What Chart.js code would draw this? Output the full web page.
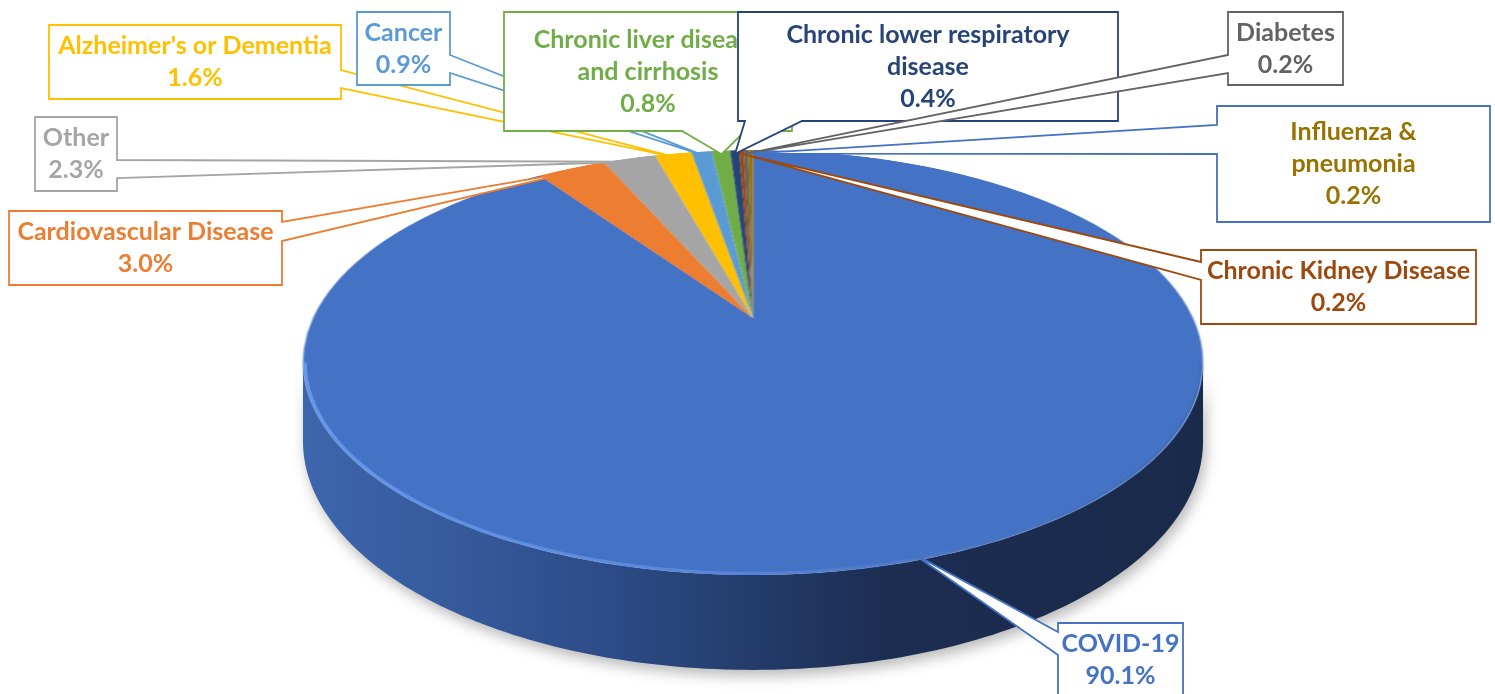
<!DOCTYPE html>
<html>
<head>
<meta charset="utf-8">
<script src="https://cdn.jsdelivr.net/npm/chart.js@4.4.0/dist/chart.umd.min.js"></script>
<style>
  html, body { margin: 0; padding: 0; background: #fff; }
  canvas { display: block; }
</style>
</head>
<body>
<canvas id="deaths_chart" width="1495" height="694"></canvas>
<script>
// Causes of death, in the order the slices go round the pie
var causes = ["COVID-19", "Cardiovascular Disease", "Other", "Alzheimer's or Dementia", "Cancer",
  "Chronic liver disease and cirrhosis", "Chronic lower respiratory disease",
  "Chronic Kidney Disease", "Diabetes", "Influenza & pneumonia"];

// Share of deaths, in percent
var shares = [90.1, 3.0, 2.3, 1.6, 0.9, 0.8, 0.4, 0.2, 0.2, 0.2];

// Office colours
var sliceColors = ["#4472C4", "#ED7D31", "#A5A5A5", "#FFC000", "#5B9BD5", "#70AD47", "#264478", "#9E480E", "#636363", "#997300"];
var boxColors = ["#4472C4", "#ED7D31", "#A5A5A5", "#FFC000", "#5B9BD5", "#70AD47", "#264478", "#9E480E", "#636363", "#4472C4"];

// callout boxes, same order as the data; side = where the pointer leaves the box
var callouts = [
  {x: 1058, y: 623, w: 125, h: 74, side: "left", a: 632, b: 655},
  {x: 9, y: 211, w: 273, h: 74, side: "right", a: 222, b: 241},
  {x: 35, y: 117, w: 82, h: 74, side: "right", a: 160, b: 178},
  {x: 49, y: 25, w: 292, h: 74, side: "right", a: 70, b: 88},
  {x: 357, y: 12, w: 93, h: 73, side: "right", a: 55, b: 73},
  {x: 504, y: 12, w: 288, h: 119, side: "bottom", a: 682, b: 745, wrap: 250},
  {x: 738, y: 12, w: 380, h: 109, side: "bottom", a: 745, b: 802, wrap: 340},
  {x: 1201, y: 250, w: 275, h: 74, side: "left", a: 262, b: 280},
  {x: 1228, y: 12, w: 115, h: 73, side: "left", a: 55, b: 73},
  {x: 1217, y: 106, w: 273, h: 116, side: "left", a: 125, b: 154, wrap: 170}
];

// perspective of the tilted disc
var view = {cx: 753, cy: 318, rx: 440, ry: 203, tilt: -0.21, depth: 75};

function project(u, v) {
  var d = 1 + view.tilt * v;
  return {x: view.cx + view.rx * u / d, y: view.cy + view.ry * v / d};
}
function rowToV(y) {
  var dy = y - view.cy;
  return dy / (view.ry - view.tilt * dy);
}

function drawSide(ctx) {
  var s = Math.asin(-view.tilt), steps = 160, i, t, p;
  var a0 = s, a1 = Math.PI - s;
  ctx.beginPath();
  for (i = 0; i <= steps; i++) {
    t = a0 + (a1 - a0) * i / steps;
    p = project(Math.cos(t), Math.sin(t));
    if (i === 0) ctx.moveTo(p.x, p.y); else ctx.lineTo(p.x, p.y);
  }
  for (i = steps; i >= 0; i--) {
    t = a0 + (a1 - a0) * i / steps;
    p = project(Math.cos(t), Math.sin(t));
    ctx.lineTo(p.x, p.y + view.depth / (1 + view.tilt * Math.sin(t)));
  }
  ctx.closePath();
  var left = project(-Math.cos(s), Math.sin(s)).x, right = project(Math.cos(s), Math.sin(s)).x;
  var g = ctx.createLinearGradient(left, 0, right, 0);
  g.addColorStop(0, "#3d66ad");
  g.addColorStop(0.18, "#35599b");
  g.addColorStop(0.35, "#2c4a85");
  g.addColorStop(0.5, "#233c6b");
  g.addColorStop(0.65, "#1c2d52");
  g.addColorStop(1, "#1a2a4a");
  ctx.save();
  ctx.shadowColor = "rgba(0,0,0,0.28)";
  ctx.shadowBlur = 14;
  ctx.shadowOffsetX = 3;
  ctx.shadowOffsetY = 6;
  ctx.fillStyle = g;
  ctx.fill();
  ctx.restore();
}

function drawRim(ctx) {
  var s = Math.asin(-view.tilt), steps = 160, i, t, p;
  ctx.beginPath();
  for (i = 0; i <= steps; i++) {
    t = s + (Math.PI - 2 * s) * i / steps;
    p = project(0.995 * Math.cos(t), 0.995 * Math.sin(t));
    if (i === 0) ctx.moveTo(p.x, p.y); else ctx.lineTo(p.x, p.y);
  }
  var g = ctx.createLinearGradient(300, 0, 1210, 0);
  g.addColorStop(0, "rgba(105,155,240,0.9)");
  g.addColorStop(0.5, "rgba(95,140,225,0.7)");
  g.addColorStop(1, "rgba(60,95,160,0.3)");
  ctx.strokeStyle = g;
  ctx.lineWidth = 3;
  ctx.stroke();
}

function drawCallout(ctx, box, tip, color, textColor, lines) {
  var x = box.x, y = box.y, w = box.w, h = box.h;
  ctx.beginPath();
  ctx.moveTo(x, y);
  ctx.lineTo(x + w, y);
  if (box.side === "right") { ctx.lineTo(x + w, box.a); ctx.lineTo(tip.x, tip.y); ctx.lineTo(x + w, box.b); }
  ctx.lineTo(x + w, y + h);
  if (box.side === "bottom") { ctx.lineTo(box.b, y + h); ctx.lineTo(tip.x, tip.y); ctx.lineTo(box.a, y + h); }
  ctx.lineTo(x, y + h);
  if (box.side === "left") { ctx.lineTo(x, box.b); ctx.lineTo(tip.x, tip.y); ctx.lineTo(x, box.a); }
  ctx.closePath();
  ctx.fillStyle = "#fff";
  ctx.fill();
  ctx.strokeStyle = color;
  ctx.lineWidth = 1.8;
  ctx.lineJoin = "miter";
  ctx.stroke();

  ctx.fillStyle = textColor;
  ctx.textAlign = "center";
  ctx.textBaseline = "middle";
  var lh = 32, top = y + h / 2 - (lines.length - 1) * lh / 2;
  lines.forEach(function (line, k) {
    ctx.fillText(line, x + w / 2, top + k * lh);
  });
}

function wrapText(ctx, text, maxW) {
  var words = text.split(" "), lines = [], cur = "";
  words.forEach(function (wd) {
    var test = cur ? cur + " " + wd : wd;
    if (cur && ctx.measureText(test).width > maxW) { lines.push(cur); cur = wd; } else cur = test;
  });
  lines.push(cur);
  return lines;
}

var tiltPlugin = {
  id: "tilt",
  afterDatasetsDraw: function (chart) {
    var ctx = chart.ctx;
    var arc = chart.getDatasetMeta(0).data[0];
    var r = arc.outerRadius, size = Math.ceil(2 * r + 4);
    var flat = document.createElement("canvas");
    flat.width = size; flat.height = size;
    flat.getContext("2d").drawImage(chart.canvas, arc.x - r - 2, arc.y - r - 2, size, size, 0, 0, size, size);

    ctx.save();
    ctx.clearRect(0, 0, chart.width, chart.height);
    drawSide(ctx);
    var top = Math.floor(project(0, -1).y), bottom = Math.ceil(project(0, 1).y);
    for (var y = top; y <= bottom; y++) {
      var v0 = Math.max(-1, rowToV(y)), v1 = Math.min(1, rowToV(y + 1));
      if (v1 <= v0) continue;
      var scale = view.rx / (1 + view.tilt * (v0 + v1) / 2) / r;
      ctx.drawImage(flat, 0, r + 2 + v0 * r, size, (v1 - v0) * r,
        view.cx - (r + 2) * scale, y, size * scale, 1);
    }
    drawRim(ctx);
    ctx.restore();
  },
  afterDraw: function (chart) {
    var ctx = chart.ctx;
    var arcs = chart.getDatasetMeta(0).data;
    ctx.save();
    ctx.font = "bold 25px Lato";
    arcs.forEach(function (arc, i) {
      var mid = (arc.startAngle + arc.endAngle) / 2;
      var tip = project(0.975 * Math.cos(mid), 0.975 * Math.sin(mid));
      var box = callouts[i];
      var lines = wrapText(ctx, causes[i], box.wrap || 1000);
      lines.push(shares[i].toFixed(1) + "%");
      drawCallout(ctx, box, tip, boxColors[i], sliceColors[i], lines);
    });
    ctx.restore();
  }
};

var ctx = document.getElementById("deaths_chart");
var myChart = new Chart(ctx, {
  type: "pie",
  data: {
    labels: causes,
    datasets: [{
      data: shares,
      backgroundColor: sliceColors,
      borderWidth: 0
    }]
  },
  options: {
    responsive: false,
    devicePixelRatio: 1,
    animation: false,
    events: [],
    layout: { padding: 10 },
    plugins: {
      legend: { display: false },
      tooltip: { enabled: false }
    }
  },
  plugins: [tiltPlugin]
});
</script>
</body>
</html>
